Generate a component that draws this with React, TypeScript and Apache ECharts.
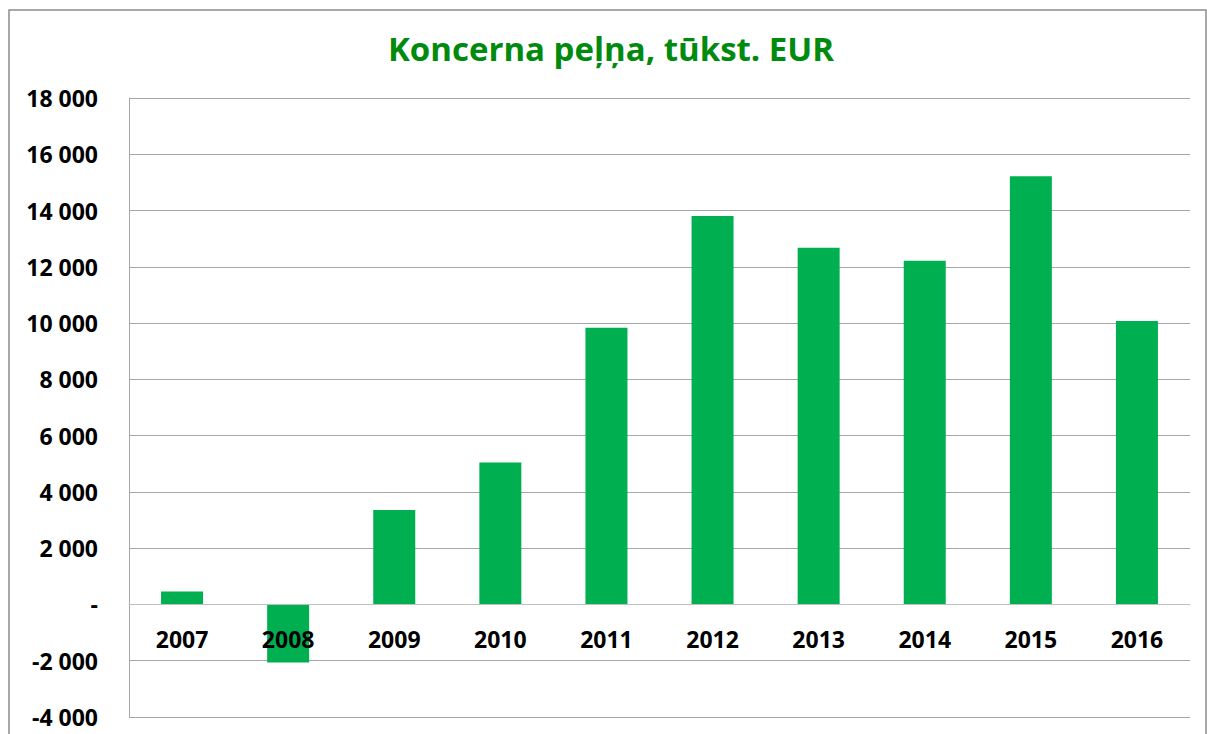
import React, { useEffect, useRef } from "react";
import * as echarts from "echarts";

const titleText = "Koncerna peļņa, tūkst. EUR";
const years = ["2007", "2008", "2009", "2010", "2011", "2012", "2013", "2014", "2015", "2016"];
const profit = [460, -2060, 3360, 5045, 9835, 13810, 12675, 12215, 15220, 10075];
const yMin = -4000;
const yMax = 18000;
const yStep = 2000;

const fmt = (v: number): string => {
  if (v === 0) return "-";
  const s = String(Math.abs(v)).replace(/\B(?=(\d{3})+(?!\d))/g, " ");
  return (v < 0 ? "-" : "") + s;
};

const FONT = "'Open Sans', 'Noto Sans', sans-serif";
const W = 1207;
const H = 734;
const GRID = { left: 129, right: 17, top: 98, bottom: 17 };

export default function App() {
  const ref = useRef<HTMLDivElement>(null);
  useEffect(() => {
    if (!ref.current) return;
    const chart = echarts.init(ref.current, undefined, { renderer: "svg" });
    const plotH = H - GRID.top - GRID.bottom;
    const zeroOffset = -((0 - yMin) / (yMax - yMin)) * plotH;
    chart.setOption({
      animation: false,
      backgroundColor: "#ffffff",
      graphic: [
        {
          type: "rect",
          shape: { x: 9, y: 10, width: 1197, height: 800 },
          style: { fill: "none", stroke: "#8c8c8c", lineWidth: 1.5 },
          silent: true,
        },
        {
          type: "text",
          x: 611,
          y: 48,
          style: {
            text: titleText,
            textAlign: "center",
            textVerticalAlign: "middle",
            fill: "#008a0e",
            font: `bold 33px ${FONT}`,
          },
        },
      ],
      grid: { ...GRID, containLabel: false, outerBoundsMode: "none" },
      xAxis: {
        type: "category",
        data: years,
        z: 10,
        offset: zeroOffset,
        axisLine: { show: true, onZero: false, lineStyle: { color: "#bfbfbf", width: 1 } },
        axisTick: { show: false },
        splitLine: { show: false },
        axisLabel: {
          margin: 23,
          fontSize: 23,
          fontWeight: "bold",
          color: "#000",
          fontFamily: FONT,
        },
      },
      yAxis: {
        type: "value",
        min: yMin,
        max: yMax,
        interval: yStep,
        axisLine: { show: true, lineStyle: { color: "#a6a6a6", width: 1 } },
        axisTick: { show: false },
        splitLine: { show: true, lineStyle: { color: "#a6a6a6", width: 1 } },
        axisLabel: {
          margin: 31,
          fontSize: 23,
          fontWeight: "bold",
          color: "#000",
          fontFamily: FONT,
          formatter: (v: number) => fmt(v),
        },
      },
      series: [
        {
          type: "bar",
          data: profit,
          barWidth: 42,
          itemStyle: { color: "#00b050" },
        },
      ],
    });
    return () => chart.dispose();
  }, []);
  return (
    <div
      ref={ref}
      style={{ position: "fixed", left: 0, top: 0, width: W, height: H, background: "#fff" }}
    />
  );
}
